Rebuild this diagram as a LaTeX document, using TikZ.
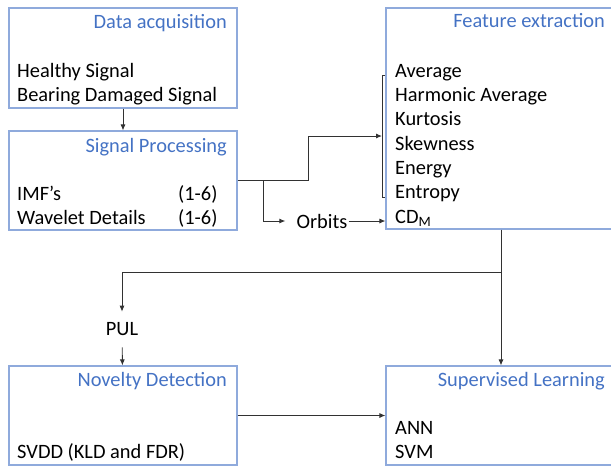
\documentclass[tikz,border=0pt]{standalone}
\usepackage{fontspec}
\setmainfont{Carlito}
\usetikzlibrary{arrows.meta}

\definecolor{boxline}{RGB}{143,170,220}
\definecolor{headblue}{RGB}{68,114,196}
\definecolor{wire}{RGB}{50,50,50}

\begin{document}
\begin{tikzpicture}[
  x=1pt,y=-1pt,
  >={Latex[length=6pt,width=5pt]},
  every node/.style={font=\fontsize{20.4}{24.4}\selectfont},
  stage/.style={draw=boxline,line width=1.1pt,inner sep=0pt,
    minimum width=228pt,minimum height=99pt},
  wide/.style={stage,minimum width=240pt},
  head/.style={anchor=base east,text=headblue,inner sep=0pt},
  item/.style={anchor=base west,inner sep=0pt},
  link/.style={->,draw=wire,line width=0.9pt}
]
  \useasboundingbox (0,0) rectangle (611,467);
  \clip (0,0) rectangle (611,467);

  % boxes
  \node[stage,minimum height=100pt] (acq) at (123,58) {};
  \node[stage] (proc) at (123,180.5) {};
  \node[wide,minimum height=221pt] (feat) at (506,118.5) {};
  \node[stage] (nov) at (123,415.5) {};
  \node[wide] (learn) at (506,415.5) {};

  % headings
  \node[head] (acqH) at (227,28) {Data acquisition};
  \node[head] (procH) at (227,152) {Signal Processing};
  \node[head] (featH) at (605,27) {Feature extraction};
  \node[head] (novH) at (227,386) {Novelty Detection};
  \node[head] (learnH) at (605,386) {Supervised Learning};

  % contents
  \node[item] (healthy) at (17,77) {Healthy Signal};
  \node[item] (damaged) at (17,101) {Bearing Damaged Signal};
  \node[item] (imf) at (17,200) {IMF's};
  \node[item] (wav) at (17,224) {Wavelet Details};
  \node[item] (imfN) at (178,200) {(1-6)};
  \node[item] (wavN) at (178,224) {(1-6)};
  \foreach \t [count=\i] in {Average,Harmonic Average,Kurtosis,Skewness,
      Energy,Entropy,CD\textsubscript{M}}
    \node[item] (f\i) at (395,52.65+24.35*\i) {\t};
  \node[item] (svdd) at (17,458) {SVDD (KLD and FDR)};
  \node[item] (ann) at (395,434) {ANN};
  \node[item] (svm) at (395,458) {SVM};

  \node[inner sep=1pt] (orb) at (322,221) {Orbits};
  \node[inner xsep=2pt,inner ysep=11pt] (pul) at (122,329.5) {PUL};

  % wiring
  \coordinate (split) at (263,180.5);
  \coordinate (brk) at (382,136);
  \coordinate (jn) at (501,272);

  \draw[link] (acq) -- (proc);
  \draw[link] (proc.east) -- ++(71,0) |- (brk);
  \draw[link,shorten >=10pt] (split) |- (orb.west);
  \draw[link] (orb) -- (orb -| feat.west);
  \draw[draw=wire,line width=0.9pt] (feat.west |- 0,75) -- (382,75)
    -- (382,197) -- (feat.west |- 0,197);

  \draw[link] (jn |- feat.south) -- (jn |- learn.north);
  \draw[link] (jn) -| (pul);
  \draw[link] (pul) -- (nov);
  \draw[link] (nov) -- (learn);
\end{tikzpicture}
\end{document}
